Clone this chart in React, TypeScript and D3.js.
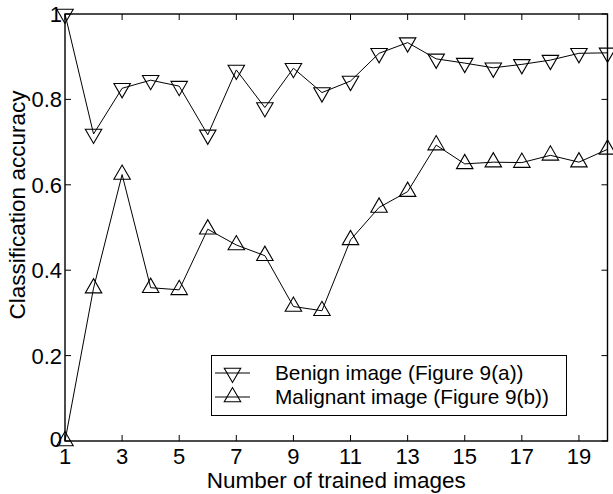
import React from "react";
import * as d3 from "d3";

const trainedImages = [1, 2, 3, 4, 5, 6, 7, 8, 9, 10, 11, 12, 13, 14, 15, 16, 17, 18, 19, 20];
const benignAccuracy = [1.0, 0.719, 0.826, 0.845, 0.831, 0.717, 0.869, 0.781, 0.873, 0.816, 0.843, 0.908, 0.933, 0.895, 0.885, 0.874, 0.882, 0.892, 0.908, 0.909];
const malignantAccuracy = [0.0, 0.358, 0.624, 0.359, 0.354, 0.496, 0.459, 0.434, 0.315, 0.305, 0.471, 0.547, 0.584, 0.693, 0.649, 0.653, 0.652, 0.669, 0.653, 0.683];
const xTicks = [1, 3, 5, 7, 9, 11, 13, 15, 17, 19];
const yTicks = [0, 0.2, 0.4, 0.6, 0.8, 1];
const yTickLabels = ["0", "0.2", "0.4", "0.6", "0.8", "1"];
const seriesNames = ["Benign image (Figure 9(a))", "Malignant image (Figure 9(b))"];

const W = 613;
const H = 494;
const L = 65, R = 607.5, T = 14, B = 441;
const FONT = "'Liberation Sans', Arial, Helvetica, sans-serif";
const FS = 22;
const FS_LEGEND = 20.8;
const FS_LABEL = 22.5;

function triPath(cx: number, cy: number, r: number, down: boolean) {
  const h = r * Math.sin(Math.PI / 3);
  if (down) {
    return `M${cx - h},${cy - r / 2}L${cx + h},${cy - r / 2}L${cx},${cy + r}Z`;
  }
  return `M${cx - h},${cy + r / 2}L${cx + h},${cy + r / 2}L${cx},${cy - r}Z`;
}

export default function App() {
  const x = d3.scaleLinear().domain([1, 20]).range([L, R]);
  const y = d3.scaleLinear().domain([0, 1]).range([B, T]);
  const line = d3
    .line<[number, number]>()
    .x((d) => x(d[0]))
    .y((d) => y(d[1]));
  const series = [
    { vals: benignAccuracy, down: true },
    { vals: malignantAccuracy, down: false },
  ];
  const mr = 9.5;
  const tickLen = 6;

  return (
    <svg
      width={W}
      height={H}
      style={{ position: "fixed", left: 0, top: 0, background: "#fff" }}
      fontFamily={FONT}
    >
      <rect x={0} y={0} width={W} height={H} fill="#fff" />
      {xTicks.map((t) => (
        <g key={"xt" + t}>
          <line x1={x(t)} x2={x(t)} y1={B} y2={B - tickLen} stroke="#000" strokeWidth={1} />
          <line x1={x(t)} x2={x(t)} y1={T} y2={T + tickLen} stroke="#000" strokeWidth={1} />
          <text x={x(t)} y={464} textAnchor="middle" fontSize={FS} fill="#000">
            {t}
          </text>
        </g>
      ))}
      {yTicks.map((t, i) => (
        <g key={"yt" + t}>
          <line x1={L} x2={L + tickLen} y1={y(t)} y2={y(t)} stroke="#000" strokeWidth={1} />
          <line x1={R} x2={R - tickLen} y1={y(t)} y2={y(t)} stroke="#000" strokeWidth={1} />
          <text x={62} y={y(t) - (t === 0 ? 2 : 0)} dy="0.36em" textAnchor="end" fontSize={FS} fill="#000">
            {yTickLabels[i]}
          </text>
        </g>
      ))}
      <rect x={L} y={T} width={R - L} height={B - T} fill="none" stroke="#000" strokeWidth={1.4} />
      {series.map((s, si) => {
        const pts = trainedImages.map((n, i) => [n, s.vals[i]] as [number, number]);
        return (
          <g key={"s" + si}>
            <path d={line(pts) || ""} fill="none" stroke="#000" strokeWidth={1} />
            {pts.map((p, i) => (
              <path
                key={i}
                d={triPath(x(p[0]), y(p[1]), mr, s.down)}
                fill="none"
                stroke="#000"
                strokeWidth={1.1}
              />
            ))}
          </g>
        );
      })}
      <text x={(L + R) / 2} y={488} textAnchor="middle" fontSize={FS_LABEL} fill="#000">
        Number of trained images
      </text>
      <text
        transform={`translate(25,205) rotate(-90)`}
        textAnchor="middle"
        fontSize={FS_LABEL}
        fill="#000"
      >
        Classification accuracy
      </text>
      <g>
        <rect x={211.5} y={355.5} width={355} height={60} fill="#fff" stroke="#000" strokeWidth={1} />
        {seriesNames.map((name, i) => {
          const cy = 373 + i * 24;
          return (
            <g key={"lg" + i}>
              <line x1={215} x2={250} y1={cy} y2={cy} stroke="#000" strokeWidth={1} />
              <path d={triPath(232.5, cy, mr, i === 0)} fill="none" stroke="#000" strokeWidth={1.1} />
              <text x={275} y={cy} dy="0.36em" fontSize={FS_LEGEND} fill="#000">
                {name}
              </text>
            </g>
          );
        })}
      </g>
    </svg>
  );
}
